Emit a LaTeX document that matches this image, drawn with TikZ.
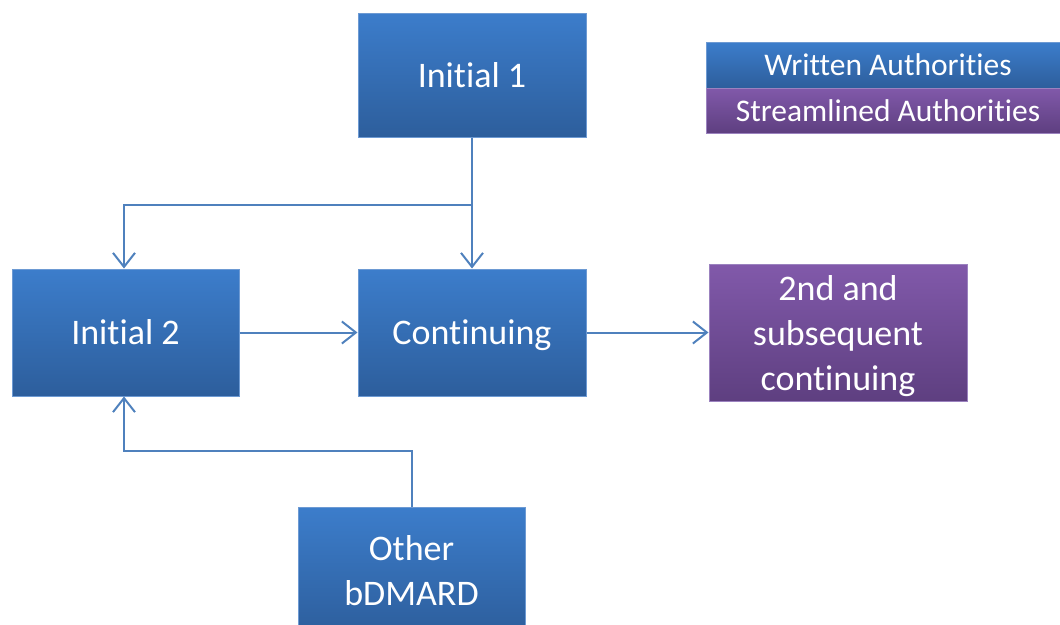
\documentclass[tikz,border=0pt]{standalone}
\usepackage{fontspec}
\setmainfont{Carlito}[Ligatures=NoCommon]
\usetikzlibrary{arrows.meta}
\definecolor{btop}{HTML}{3C7DCB}
\definecolor{bbot}{HTML}{2D5E9C}
\definecolor{bedge}{HTML}{6D9AD3}
\definecolor{ptop}{HTML}{8159AA}
\definecolor{pbot}{HTML}{5E3F80}
\definecolor{pedge}{HTML}{9B82BF}
\definecolor{link}{HTML}{4F81BD}
\tikzset{
  bluebox/.style={rectangle, top color=btop, bottom color=bbot, draw=bedge, line width=1pt,
    text=white, align=center, font=\fontsize{36}{45}\selectfont, inner sep=0pt},
  purplebox/.style={rectangle, top color=ptop, bottom color=pbot, draw=pedge, line width=1pt,
    text=white, align=center, font=\fontsize{36}{45}\selectfont, inner sep=0pt},
  legendtext/.style={font=\fontsize{31.5}{36}\selectfont},
  conn/.style={draw=link, line width=2pt, -{Straight Barb[length=14pt,width=22pt,line width=2pt]}},
  plainconn/.style={draw=link, line width=2pt}
}
\begin{document}
\begin{tikzpicture}[x=1pt,y=-1pt]
\useasboundingbox (0,0) rectangle (1060,624);
\clip (0,0) rectangle (1060,624);
\node[bluebox, minimum width=228pt, minimum height=124pt] (init1) at (472,75) {Initial 1};
\node[bluebox, minimum width=227pt, minimum height=127pt] (init2) at (125.5,332.5) {Initial 2};
\node[bluebox, text depth=0pt, minimum width=228pt, minimum height=127pt] (cont) at (472,332.5) {Continuing};
\node[purplebox, text depth=0pt, minimum width=258pt, minimum height=137pt] (subs) at (838,333) {2nd and\\subsequent\\continuing};
\node[bluebox, minimum width=227pt, minimum height=127pt] (other) at (411.5,571) {Other\\bDMARD};
\node[bluebox, legendtext, minimum width=364pt, minimum height=46pt] (legw) at (888,65) {Written Authorities};
\node[purplebox, legendtext, minimum width=364pt, minimum height=45pt] (legs) at (888,110.5) {Streamlined Authorities};
\coordinate (split) at (472,205);
\coordinate (splitl) at (124,205);
\coordinate (up) at (411.5,451);
\coordinate (upl) at (124,451);
\draw[plainconn] (init1.south) -- (split);
\draw[conn] (split) -- (cont.north);
\draw[conn] (split) -- (splitl) -- (splitl |- init2.north);
\draw[conn] (init2.east) -- (cont.west);
\draw[conn] (cont.east) -- (cont.east -| subs.west);
\draw[conn] (other.north) -- (up) -- (upl) -- (upl |- init2.south);
\end{tikzpicture}
\end{document}
